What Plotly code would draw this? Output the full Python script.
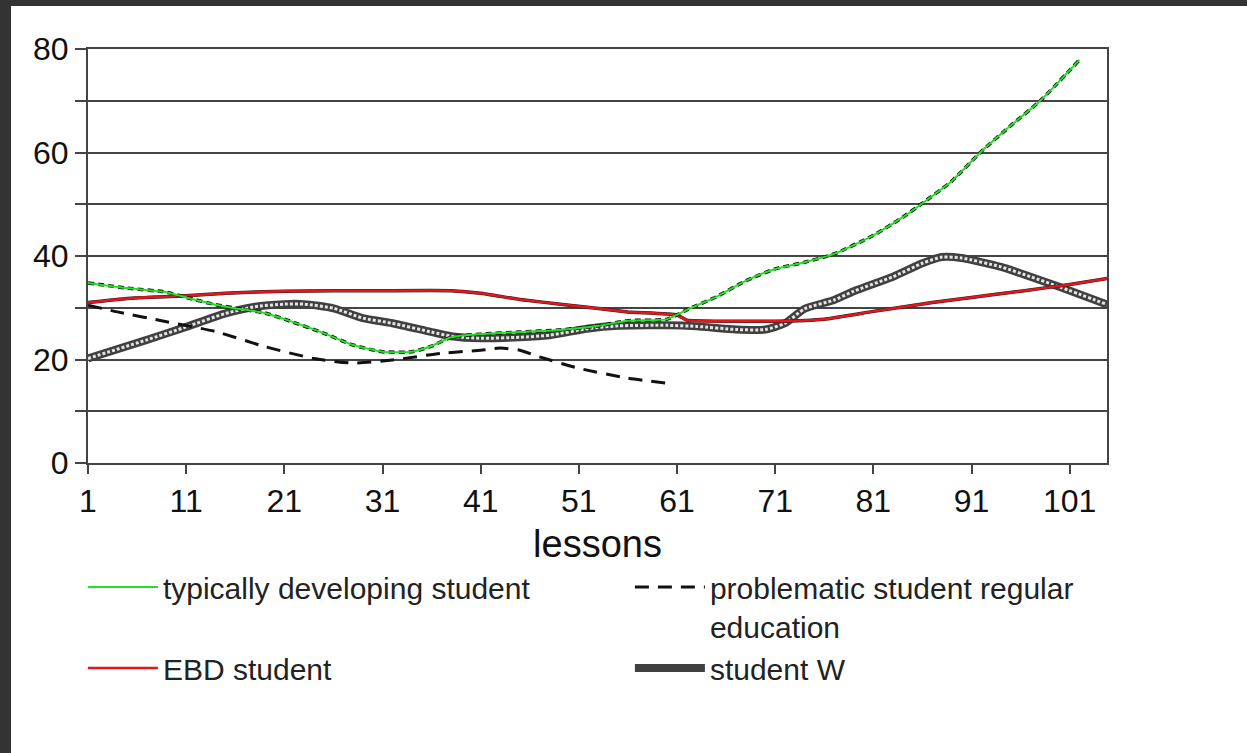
import plotly.graph_objects as go

# ---- data ----
lessons_typ = [1, 5, 9, 11, 14, 17, 19, 21, 25, 28, 31, 34, 36, 38, 41, 45, 49, 53, 56, 60, 62, 65, 68, 71, 74, 77, 81, 84, 86, 89, 92, 95, 98, 102]
typ_vals = [34.8, 33.8, 33.0, 32.0, 30.6, 29.6, 29.0, 27.8, 25.1, 22.8, 21.5, 21.5, 22.6, 24.3, 24.9, 25.3, 25.7, 26.5, 27.5, 27.8, 29.6, 32.1, 35.2, 37.5, 38.8, 40.4, 44.0, 47.5, 50.2, 54.5, 60.2, 65.2, 70.0, 77.9]

lessons_prob = [1, 4, 9, 14, 19, 24, 28, 32, 37, 41, 43, 45, 47, 51, 56, 60]
prob_vals = [30.5, 29.2, 27.3, 25.4, 22.5, 20.2, 19.3, 19.9, 21.2, 21.8, 22.2, 21.8, 20.5, 18.3, 16.4, 15.4]

lessons_ebd = [1, 5, 11, 15, 21, 31, 38, 41, 45, 50, 56, 61, 62, 66, 71, 76, 81, 87, 91, 96, 101, 105]
ebd_vals = [31.0, 31.8, 32.3, 32.8, 33.2, 33.3, 33.3, 32.8, 31.6, 30.5, 29.2, 28.6, 27.6, 27.4, 27.4, 27.8, 29.3, 31.0, 32.0, 33.2, 34.5, 35.7]

lessons_w = [1, 7, 11, 15, 18, 21, 23, 26, 29, 32, 36, 38, 41, 45, 48, 52, 55, 60, 63, 67, 70, 72, 74, 77, 79, 83, 86, 88, 90, 94, 97, 100, 105]
w_vals = [20.2, 23.8, 26.3, 28.9, 30.2, 30.7, 30.7, 29.9, 28.0, 27.0, 25.3, 24.5, 24.1, 24.3, 24.7, 26.0, 26.5, 26.6, 26.4, 25.8, 25.8, 27.0, 29.8, 31.5, 33.2, 36.0, 38.6, 39.8, 39.6, 37.9, 36.0, 34.0, 30.5]

x_ticks = [1, 11, 21, 31, 41, 51, 61, 71, 81, 91, 101]
y_ticks = [0, 10, 20, 30, 40, 50, 60, 70, 80]
y_ticktext = ["0", "", "20", "", "40", "", "60", "", "80"]

names = ["typically developing student", "problematic student regular<br>education", "EBD student", "student W"]

FONT = "Liberation Sans, Arial, sans-serif"
W, H = 1247, 753
ML, MR, MT, MB = 88, 140, 49, 290
PW, PH = W - ML - MR, H - MT - MB

fig = go.Figure()

# student W: thick dark line with light dotted core
fig.add_trace(go.Scatter(x=lessons_w, y=w_vals, mode="lines", name=names[3], legendrank=4,
                         line=dict(color="#404040", width=8, shape="spline", smoothing=0.6)))
fig.add_trace(go.Scatter(x=lessons_w, y=w_vals, mode="lines", showlegend=False, hoverinfo="skip",
                         line=dict(color="#e4e4e4", width=3, dash="3px,2px", shape="spline", smoothing=0.6)))

# problematic student regular education: black dashed
fig.add_trace(go.Scatter(x=lessons_prob, y=prob_vals, mode="lines", name=names[1], legendrank=2,
                         line=dict(color="#111111", width=3, dash="14px,9px", shape="spline", smoothing=0.6)))

# EBD student: red with dark shadow
fig.add_trace(go.Scatter(x=lessons_ebd, y=ebd_vals, mode="lines", showlegend=False, hoverinfo="skip",
                         line=dict(color="#222222", width=3.5, shape="spline", smoothing=0.4)))
fig.add_trace(go.Scatter(x=lessons_ebd, y=ebd_vals, mode="lines", name=names[2], legendrank=3,
                         line=dict(color="#e8141c", width=2.5, shape="spline", smoothing=0.4)))

# typically developing student: black short dashes under green line
fig.add_trace(go.Scatter(x=lessons_typ, y=typ_vals, mode="lines", showlegend=False, hoverinfo="skip",
                         line=dict(color="#111111", width=3.5, dash="6px,4px", shape="spline", smoothing=0.6)))
fig.add_trace(go.Scatter(x=lessons_typ, y=typ_vals, mode="lines", name=names[0], legendrank=1,
                         line=dict(color="#22e022", width=2, shape="spline", smoothing=0.6)))

def px_x(p):
    return (p - ML) / PW

def px_y(p):
    return (H - MB - p) / PH

shapes = [
    dict(type="rect", xref="paper", yref="paper", x0=px_x(0), x1=px_x(11), y0=px_y(H), y1=px_y(0),
         fillcolor="#333333", line=dict(width=0), layer="below"),
    dict(type="rect", xref="paper", yref="paper", x0=px_x(0), x1=px_x(W), y0=px_y(6), y1=px_y(0),
         fillcolor="#333333", line=dict(width=0), layer="below"),
]

fig.update_layout(
    width=W, height=H,
    margin=dict(l=ML, r=MR, t=MT, b=MB, autoexpand=False),
    paper_bgcolor="white", plot_bgcolor="white",
    font=dict(family=FONT, color="#111111"),
    shapes=shapes,
    showlegend=True,
    legend=dict(orientation="h", x=-0.005, xanchor="left", y=px_y(561), yanchor="top",
                font=dict(size=30, family=FONT, color="#222222"),
                itemwidth=70, entrywidth=462, entrywidthmode="pixels",
                bgcolor="rgba(0,0,0,0)", tracegroupgap=0, valign="top"),
    xaxis=dict(range=[1, 104.8], tickvals=x_ticks, ticktext=[str(v) for v in x_ticks],
               ticks="outside", ticklen=9, tickwidth=2, tickcolor="#444",
               showline=True, linecolor="#444", linewidth=2, mirror=True,
               showgrid=False, zeroline=False,
               tickfont=dict(size=32, family=FONT, color="#111"),
               title=dict(text="lessons", font=dict(size=38, family=FONT, color="#111"), standoff=12)),
    yaxis=dict(range=[0, 80], tickvals=y_ticks, ticktext=y_ticktext,
               ticks="outside", ticklen=11, tickwidth=2, tickcolor="#444",
               showline=True, linecolor="#444", linewidth=2, mirror=True,
               showgrid=True, gridcolor="#444", gridwidth=2, zeroline=False,
               tickfont=dict(size=32, family=FONT, color="#111")),
)

fig.write_html("out.html", config={"displayModeBar": False},
               post_script="document.body.style.margin='0';")
